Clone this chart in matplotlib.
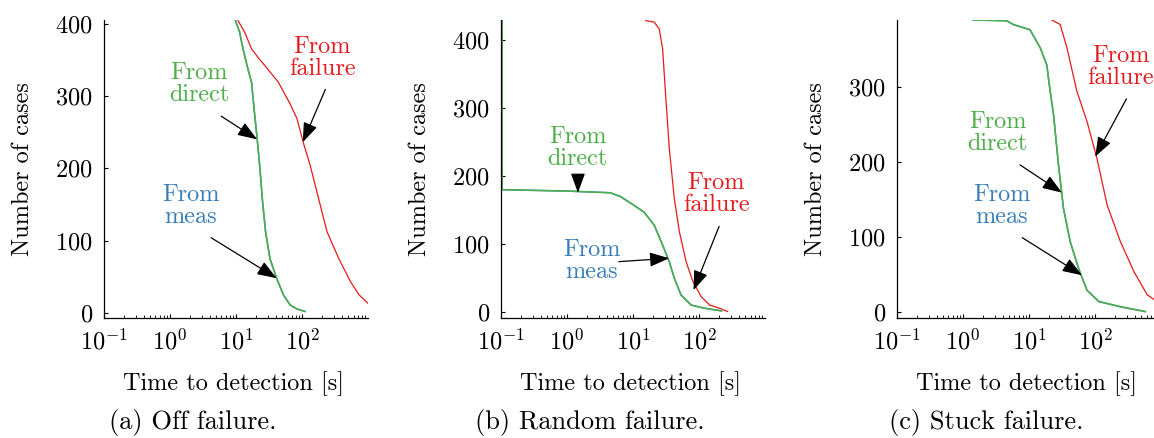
import numpy as np
import matplotlib
matplotlib.use('Agg')
import matplotlib.pyplot as plt

plt.rcParams['font.family'] = ['cmr10', 'DejaVu Serif']
plt.rcParams['mathtext.fontset'] = 'cm'
plt.rcParams['axes.formatter.use_mathtext'] = True

RED = '#e41a1c'
BLUE = '#377eb8'
GREEN = '#4daf4a'

# (a) Off failure
off_direct_t = [9.8, 11.3, 12.7, 15.1, 17.1, 18.7, 20.8, 22.9, 25.1, 27.9, 32.5, 41, 51.9, 65.6, 83, 111]
off_direct_n = [404, 388, 365, 337, 319, 282, 241, 200, 154, 112, 75, 48, 25, 11, 5.5, 2]
off_meas_t = off_direct_t
off_meas_n = off_direct_n
off_fail_t = [10.7, 13.5, 17.1, 22, 27.2, 43.5, 65.6, 83, 105, 132, 177, 238, 358, 540, 725, 1000]
off_fail_n = [404, 388, 365, 352, 342, 319, 289, 269, 234, 204, 158, 112, 75, 43, 25, 13]

# (b) Random failure
rnd_direct_t = [0.104, 0.104, 1.0, 4.5, 6.4, 10.3, 14.6, 20.8, 27.9, 35.2, 42, 53, 75.5, 120, 217]
rnd_direct_n = [429, 180, 178, 175.5, 170, 157, 147, 128, 98.5, 74, 49.5, 25, 10, 5.4, 1.5]
rnd_meas_t = rnd_direct_t
rnd_meas_n = rnd_direct_n
rnd_fail_t = [15.5, 20.8, 24.8, 27.9, 31.3, 35.2, 42, 50.1, 63.3, 80, 107, 144, 204, 269]
rnd_fail_n = [429, 427, 417, 388, 314, 241, 167, 118, 74, 45, 22.5, 10, 5.4, 0.5]

# (c) Stuck failure
stk_direct_t = [1.42, 4.57, 5.75, 10.3, 14.7, 18.5, 20.8, 23.4, 27.8, 33.1, 41.7, 56, 75, 113, 240, 576]
stk_direct_n = [389, 388, 383, 376, 352, 329, 294, 263, 196, 138, 94, 58, 29, 14, 7, 0.5]
stk_meas_t = stk_direct_t
stk_meas_n = stk_direct_n
stk_fail_t = [22, 29.5, 37.3, 52.8, 75, 106, 151, 240, 384, 612, 794, 1000]
stk_fail_n = [389, 383, 352, 294, 254, 205, 143, 94, 54, 23, 16, 12]

captions = ['(a) Off failure.', '(b) Random failure.', '(c) Stuck failure.']

fig = plt.figure(figsize=(11.54, 4.38), dpi=100)

W, H = 1154.0, 438.0
lefts = [104, 501, 897]
ylims = [(-7, 405), (-9, 430), (-8, 389)]
cap_x = [193, 590, 986]

panels = [
    (off_direct_t, off_direct_n, off_meas_t, off_meas_n, off_fail_t, off_fail_n),
    (rnd_direct_t, rnd_direct_n, rnd_meas_t, rnd_meas_n, rnd_fail_t, rnd_fail_n),
    (stk_direct_t, stk_direct_n, stk_meas_t, stk_meas_n, stk_fail_t, stk_fail_n),
]

# text position, arrow start, arrow tip  (t, n)
notes = [
    [('From\nfailure', RED, (202, 352), (224, 309), (102, 236)),
     ('From\ndirect', GREEN, (2.77, 316), (5.94, 272), (20.8, 240)),
     ('From\nmeas', BLUE, (2.07, 148), (4.18, 104), (41.1, 48))],
    [('From\ndirect', GREEN, (1.46, 241), (1.46, 199), (1.46, 175.5)),
     ('From\nmeas', BLUE, (2.38, 75), (6.07, 74), (35.2, 79)),
     ('From\nfailure', RED, (182, 174), (200, 126), (82, 32))],
    [('From\ndirect', GREEN, (3.33, 238), (7.27, 196), (31.3, 159)),
     ('From\nmeas', BLUE, (3.84, 141), (7.88, 99), (63, 49)),
     ('From\nfailure', RED, (245, 327), (297, 284), (100, 207))],
]

for i, (dt, dn, mt, mn, ft, fn) in enumerate(panels):
    ax = fig.add_axes([lefts[i] / W, (H - 318) / H, 264 / W, 298 / H])
    ax.plot(mt, mn, color=BLUE, lw=1.1)
    ax.plot(dt, dn, color=GREEN, lw=1.1)
    ax.plot(ft, fn, color=RED, lw=0.9)
    ax.set_xscale('log')
    ax.set_xlim(0.1, 990)
    ax.set_ylim(*ylims[i])
    ax.set_xticks([0.1, 1, 10, 100])
    for s in ['top', 'right']:
        ax.spines[s].set_visible(False)
    ax.spines['left'].set_linewidth(0.9)
    ax.spines['bottom'].set_linewidth(0.9)
    ax.tick_params(which='major', direction='in', length=3, width=0.8,
                   labelsize=17.5, pad=8)
    ax.tick_params(which='minor', direction='in', length=2, width=0.6)
    ax.set_xlabel('Time to detection [s]', fontsize=17.5)
    ax.set_ylabel('Number of cases', fontsize=17.5)
    ax.xaxis.set_label_coords(0.49, -0.18)
    ax.yaxis.set_label_coords(-0.265, 0.5)
    for txt, col, pos, start, tip in notes[i]:
        ax.text(pos[0], pos[1], txt, color=col, fontsize=17.5, ha='center',
                va='center', linespacing=1.0, clip_on=False)
        ax.annotate('', xy=tip, xytext=start,
                    arrowprops=dict(arrowstyle='-|>,head_length=0.6,head_width=0.22',
                                    color='black', lw=0.9, mutation_scale=20,
                                    shrinkA=0, shrinkB=0))
    fig.text(cap_x[i] / W, 1 - 423 / H, captions[i], fontsize=19,
             ha='center', va='center')

fig.savefig('out.png', dpi=100)
